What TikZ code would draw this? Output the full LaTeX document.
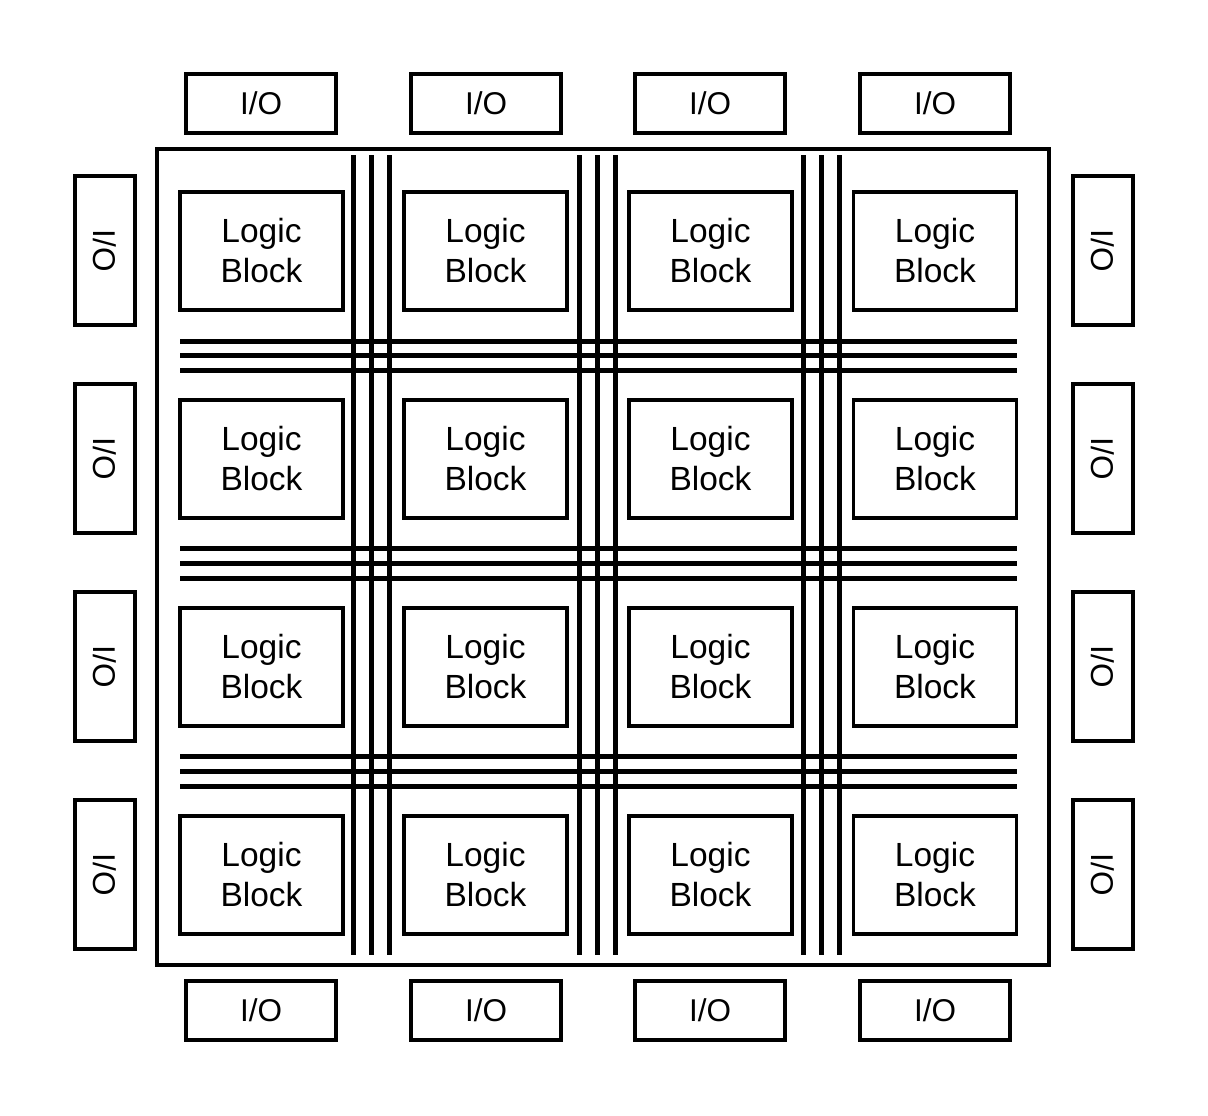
\documentclass[tikz,border=0pt]{standalone}
\usepackage{fontspec}
\setmainfont{Liberation Sans}
\begin{document}
\begin{tikzpicture}[x=1pt,y=-1pt,
  iobox/.style={draw,line width=3.2pt,minimum width=150pt,minimum height=59pt,inner sep=0pt,font=\fontsize{31.5}{37}\selectfont},
  sideio/.style={draw,line width=3.2pt,minimum width=60pt,minimum height=149pt,inner sep=0pt},
  logicbox/.style={draw,line width=3.2pt,minimum width=163pt,minimum height=118pt,inner sep=0pt,align=center,font=\fontsize{33.5}{40}\selectfont},
  wire/.style={line width=5pt}]
\useasboundingbox (0,0) rectangle (1208,1116);
\node[draw,line width=3.2pt,minimum width=892pt,minimum height=816pt,inner sep=0pt] (chip) at (603,557) {};
% routing wires
\foreach \x [count=\i] in {353,371,389,579,597,615,803,821,839}{
  \coordinate (vt\i) at (\x,155);
  \coordinate (vb\i) at (\x,955);
  \draw[wire] (vt\i) -- (vb\i);
}
\foreach \y [count=\i] in {341,355,370,548,563,578,756,771,786}{
  \coordinate (hl\i) at (180,\y);
  \coordinate (hr\i) at (1017,\y);
  \draw[wire] (hl\i) -- (hr\i);
}
% logic blocks
\foreach \x [count=\i] in {261.5,485.5,710.5,935}{
  \foreach \y [count=\j] in {251,459,667,875}{
    \node[logicbox,fill=white] (lb\i\j) at (\x,\y) {Logic\\Block};
  }
}
% top and bottom IO
\foreach \x [count=\i] in {261,486,710,935}{
  \node[iobox] (iot\i) at (\x,103.5) {I/O};
  \node[iobox] (iob\i) at (\x,1010.5) {I/O};
}
% side IO
\foreach \y [count=\j] in {250.5,458.5,666.5,874.5}{
  \node[sideio] (iol\j) at (105,\y) {};
  \node[rotate=-90,font=\fontsize{31.5}{37}\selectfont] at (iol\j.center) {I/O};
  \node[sideio] (ior\j) at (1103,\y) {};
  \node[rotate=-90,font=\fontsize{31.5}{37}\selectfont] at (ior\j.center) {I/O};
}
\end{tikzpicture}
\end{document}
